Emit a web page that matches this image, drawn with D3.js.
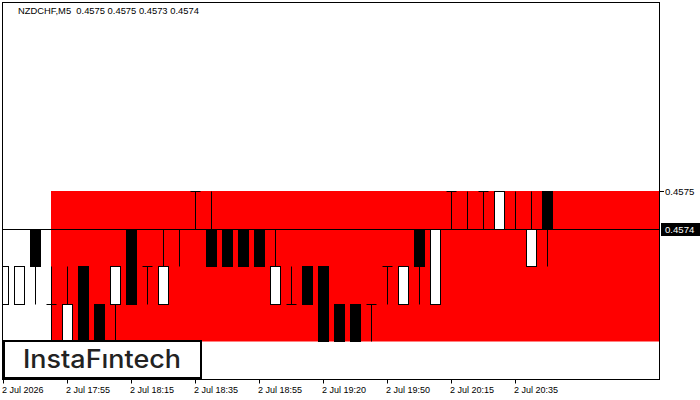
<!DOCTYPE html>
<html><head><meta charset="utf-8">
<script src="https://cdn.jsdelivr.net/npm/d3@7/dist/d3.min.js"></script>
<style>body{margin:0;background:#fff}svg{display:block}text{white-space:pre}</style>
</head><body>
<script>
const symbol = "NZDCHF,M5";
const lastOHLC = [0.4575, 0.4575, 0.4573, 0.4574];
const opens  = [0.4572,0.4572,0.4574,0.4572,0.4571,0.4573,0.4572,0.4572,0.4574,0.4573,0.4572,0.4574,0.4575,0.4574,0.4574,0.4574,0.4574,0.4572,0.4572,0.4573,0.4573,0.4572,0.4572,0.4572,0.4573,0.4572,0.4574,0.4572,0.4575,0.4574,0.4575,0.4574,0.4574,0.4573,0.4575];
const highs  = [0.4573,0.4573,0.4574,0.4573,0.4573,0.4573,0.4572,0.4573,0.4574,0.4573,0.4574,0.4574,0.4575,0.4575,0.4574,0.4574,0.4574,0.4574,0.4573,0.4573,0.4573,0.4572,0.4572,0.4572,0.4573,0.4573,0.4574,0.4574,0.4575,0.4575,0.4575,0.4575,0.4575,0.4575,0.4575];
const lows   = [0.4572,0.4572,0.4572,0.4571,0.4571,0.4571,0.4571,0.4571,0.4572,0.4572,0.4572,0.4573,0.4574,0.4573,0.4573,0.4573,0.4573,0.4572,0.4572,0.4572,0.4571,0.4571,0.4571,0.4571,0.4572,0.4572,0.4572,0.4572,0.4574,0.4574,0.4574,0.4574,0.4574,0.4573,0.4573];
const closes = [0.4573,0.4573,0.4573,0.4572,0.4572,0.4571,0.4571,0.4573,0.4572,0.4573,0.4573,0.4574,0.4575,0.4573,0.4573,0.4573,0.4573,0.4573,0.4572,0.4572,0.4571,0.4571,0.4571,0.4572,0.4573,0.4573,0.4573,0.4574,0.4575,0.4574,0.4575,0.4575,0.4574,0.4574,0.4574];
const timeTickIdx = [0,4,8,12,16,20,24,28,32];
const timeLabels = ["2 Jul 2026","2 Jul 17:55","2 Jul 18:15","2 Jul 18:35","2 Jul 18:55","2 Jul 19:20","2 Jul 19:50","2 Jul 20:15","2 Jul 20:35"];
const priceTicks = [0.4575];
const currentPrice = 0.4574;
const zoneStartIdx = 3;
const zoneTop = 0.4575, zoneBottom = 0.4571;

const W = 700, H = 400;
const svg = d3.select("body").append("svg").attr("width", W).attr("height", H);
const L = 2, T = 2, R = 659, B = 379;

const x = d3.scaleLinear().domain([0, 34]).range([3.5, 547.5]);
const y = d3.scaleLinear().domain([0.4571, 0.4575]).range([341.5, 191.5]);
const py = v => Math.round(y(v) - 0.5) + 0.5;

svg.append("defs").append("clipPath").attr("id","plot")
  .append("rect").attr("x", L+1).attr("y", T+1).attr("width", R-L-1).attr("height", B-T-1);

const g = svg.append("g").attr("clip-path","url(#plot)");

// zone
g.append("rect")
  .attr("x", x(zoneStartIdx) - 0.5).attr("y", py(zoneTop) - 0.5)
  .attr("width", R - (x(zoneStartIdx) - 0.5)).attr("height", py(zoneBottom) - py(zoneTop) + 0.5)
  .attr("fill", "#ff0000");

// current price line
g.append("line").attr("x1", L).attr("x2", R).attr("y1", py(currentPrice)).attr("y2", py(currentPrice))
  .attr("stroke", "#000").attr("stroke-width", 1);

const idx = d3.range(opens.length);
// wicks
g.selectAll(".wick").data(idx).join("line")
  .attr("x1", i => x(i)).attr("x2", i => x(i))
  .attr("y1", i => py(highs[i])).attr("y2", i => py(lows[i]))
  .attr("stroke", "#000").attr("stroke-width", 1);
// bodies
g.selectAll(".body").data(idx.filter(i => opens[i] !== closes[i])).join("rect")
  .attr("x", i => x(i) - 5).attr("width", 10)
  .attr("y", i => py(Math.max(opens[i], closes[i])))
  .attr("height", i => py(Math.min(opens[i], closes[i])) - py(Math.max(opens[i], closes[i])))
  .attr("fill", i => closes[i] > opens[i] ? "#fff" : "#000")
  .attr("stroke", "#000").attr("stroke-width", 1);
// doji ticks
g.selectAll(".doji").data(idx.filter(i => opens[i] === closes[i])).join("line")
  .attr("x1", i => x(i) - 5).attr("x2", i => x(i) + 5)
  .attr("y1", i => py(opens[i])).attr("y2", i => py(opens[i]))
  .attr("stroke", "#000").attr("stroke-width", 1);

// frame
svg.append("rect").attr("x", L + 0.5).attr("y", T + 0.5).attr("width", R - L).attr("height", B - T)
  .attr("fill", "none").attr("stroke", "#000").attr("stroke-width", 1);

// time axis
const fontAxis = "'Liberation Sans', Arial, sans-serif";
timeTickIdx.forEach((ti, k) => {
  svg.append("line").attr("x1", x(ti)).attr("x2", x(ti)).attr("y1", B + 0.5).attr("y2", B + 4.5)
    .attr("stroke", "#000");
  svg.append("text").attr("x", x(ti) - 1.5).attr("y", 393)
    .attr("font-family", fontAxis).attr("font-size", 9).attr("fill", "#000").text(timeLabels[k]);
});

// price axis
priceTicks.forEach(p => {
  svg.append("line").attr("x1", R + 0.5).attr("x2", R + 5).attr("y1", py(p)).attr("y2", py(p)).attr("stroke", "#000");
  svg.append("text").attr("x", 665).attr("y", py(p) + 3.5)
    .attr("font-family", fontAxis).attr("font-size", 9.6).attr("fill", "#000").text(d3.format(".4f")(p));
});
svg.append("rect").attr("x", R + 2).attr("y", py(currentPrice) - 6.5).attr("width", W - R - 2).attr("height", 13).attr("fill", "#000");
svg.append("text").attr("x", 665).attr("y", py(currentPrice) + 3.5)
  .attr("font-family", fontAxis).attr("font-size", 9.6).attr("fill", "#fff").text(d3.format(".4f")(currentPrice));

// header
svg.append("text").attr("x", 18).attr("y", 14)
  .attr("font-family", fontAxis).attr("font-size", 9.4).attr("fill", "#000")
  .text(symbol + "  " + lastOHLC.map(d3.format(".4f")).join(" "));

// logo
svg.append("rect").attr("x", 4).attr("y", 341).attr("width", 197).attr("height", 37)
  .attr("fill", "#fff").attr("stroke", "#000").attr("stroke-width", 2);
svg.append("text").attr("x", 23).attr("y", 368)
  .attr("font-family", "Inter, Lato, sans-serif").attr("font-weight", 500).attr("font-size", 25).attr("fill", "#222")
  .attr("textLength", 158).attr("lengthAdjust", "spacingAndGlyphs")
  .text("InstaFıntech");
</script>
</body></html>
